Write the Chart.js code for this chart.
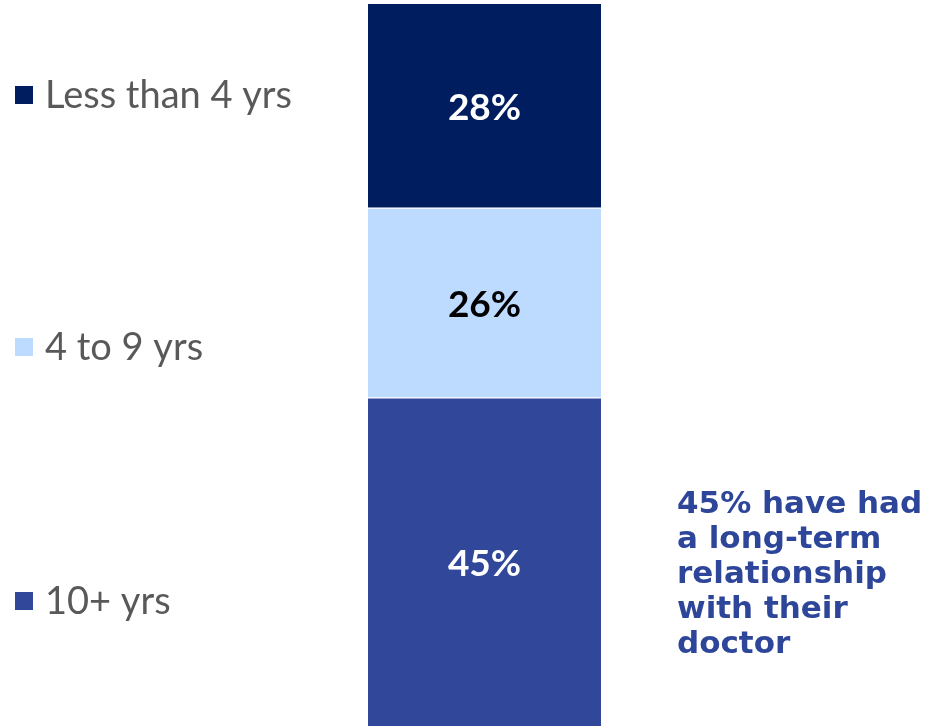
<!DOCTYPE html>
<html>
<head>
<meta charset="utf-8">
<script src="https://cdn.jsdelivr.net/npm/chart.js@4"></script>
<style>
  html, body { margin: 0; padding: 0; background: #ffffff; }
  #wrap { width: 948px; height: 728px; position: relative; }
</style>
</head>
<body>
<div id="wrap"><canvas id="chart" width="948" height="728"></canvas></div>
<script>
// Tenure with current doctor (share of respondents, %)
const categories = ['Tenure'];
const seriesNames = ['10+ yrs', '4 to 9 yrs', 'Less than 4 yrs'];
const tenPlus = [45];
const fourToNine = [26];
const lessThanFour = [28];
const seriesColors = ['#30479A', '#BDDAFF', '#001E5F'];
const labelColors = ['#FFFFFF', '#000000', '#FFFFFF'];
const calloutLines = ['45% have had', 'a long-term', 'relationship', 'with their', 'doctor'];

const FONT = 'Lato, "DejaVu Sans", sans-serif';
const WIDE_BOLD = '"DejaVu Sans", sans-serif';

// legend entries sit at fixed rows down the left side (top to bottom)
const legendRows = [
  { name: seriesNames[2], color: seriesColors[2], y: 95 },
  { name: seriesNames[1], color: seriesColors[1], y: 347 },
  { name: seriesNames[0], color: seriesColors[0], y: 601 }
];

const sideText = {
  id: 'sideText',
  afterDatasetsDraw(chart) {
    const ctx = chart.ctx;
    ctx.save();
    // values inside each segment
    chart.data.datasets.forEach((ds, i) => {
      const meta = chart.getDatasetMeta(i);
      meta.data.forEach((bar, j) => {
        const p = bar.getProps(['x', 'y', 'base'], true);
        ctx.fillStyle = labelColors[i];
        ctx.font = 'bold 37px ' + FONT;
        ctx.textAlign = 'center';
        ctx.textBaseline = 'middle';
        ctx.fillText(ds.data[j] + '%', p.x, (p.y + p.base) / 2 + 2);
      });
    });
    // left legend
    legendRows.forEach(r => {
      ctx.fillStyle = r.color;
      ctx.fillRect(15, r.y - 9, 18, 18);
      ctx.fillStyle = '#595959';
      ctx.font = '38px ' + FONT;
      ctx.textAlign = 'left';
      ctx.textBaseline = 'middle';
      ctx.fillText(r.name, 45, r.y + 1);
    });
    // callout on the right
    ctx.fillStyle = '#2E4699';
    ctx.font = 'bold 31px ' + WIDE_BOLD;
    ctx.textAlign = 'left';
    ctx.textBaseline = 'alphabetic';
    calloutLines.forEach((t, k) => {
      ctx.fillText(t, 677, 513 + k * 35);
    });
    ctx.restore();
  }
};

new Chart(document.getElementById('chart'), {
  type: 'bar',
  data: {
    labels: categories,
    datasets: [
      { label: seriesNames[0], data: tenPlus, backgroundColor: seriesColors[0],
        borderColor: '#FFFFFF', borderWidth: { top: 1, bottom: 0, left: 0, right: 0 }, borderSkipped: false },
      { label: seriesNames[1], data: fourToNine, backgroundColor: seriesColors[1],
        borderColor: '#FFFFFF', borderWidth: { top: 1, bottom: 1, left: 0, right: 0 }, borderSkipped: false },
      { label: seriesNames[2], data: lessThanFour, backgroundColor: seriesColors[2],
        borderColor: '#FFFFFF', borderWidth: { top: 0, bottom: 1, left: 0, right: 0 }, borderSkipped: false }
    ]
  },
  options: {
    responsive: false,
    animation: false,
    layout: { padding: { left: 21, right: 0, top: 4, bottom: 2 } },
    barThickness: 233,
    plugins: { legend: { display: false }, tooltip: { enabled: false } },
    scales: {
      x: { stacked: true, display: false },
      y: { stacked: true, display: false, min: 0, max: 99 }
    }
  },
  plugins: [sideText]
});
</script>
</body>
</html>
